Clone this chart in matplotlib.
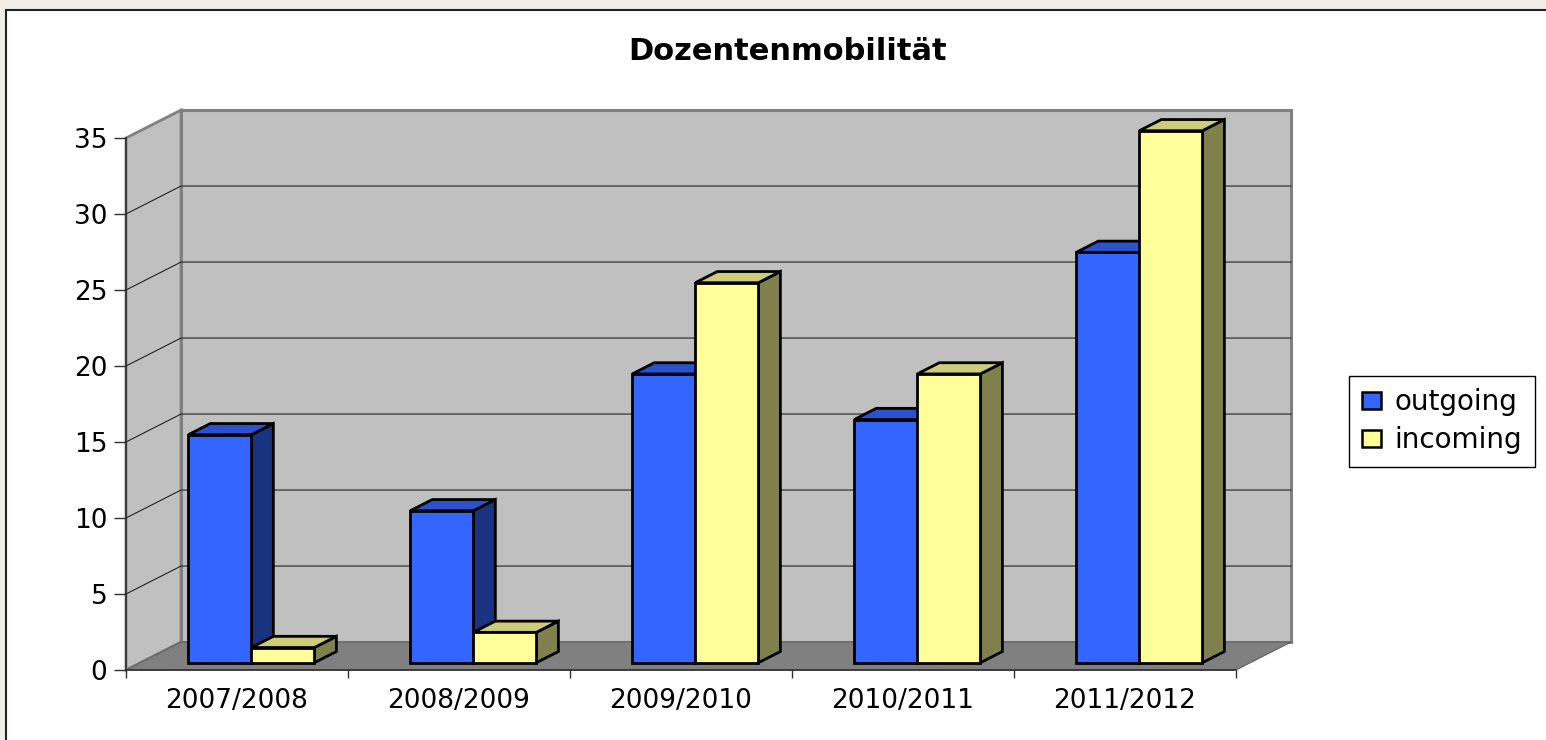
import numpy as np
import matplotlib
matplotlib.use('Agg')
import matplotlib.pyplot as plt
from matplotlib.patches import Polygon, Rectangle, Patch

plt.rcParams['font.family'] = ['DejaVu Sans']

# data
years = ['2007/2008', '2008/2009', '2009/2010', '2010/2011', '2011/2012']
outgoing = [15, 10, 19, 16, 27]
incoming = [1, 2, 25, 19, 35]
series_names = ['outgoing', 'incoming']
yticks = [0, 5, 10, 15, 20, 25, 30, 35]

# colours: front, top, side
blue = ['#3366ff', '#2952cc', '#1a3380']
yellow = ['#ffff99', '#cccc7a', '#80804d']

# 3d look (depth in data units)
DX = 0.248
DY = 1.84
W = 0.284          # bar width
G = (1 - 2 * W) / 2
F = 0.26           # front of bars, fraction of depth
BD = 0.40          # bar depth, fraction of depth


def poly(ax, pts, fc, ec='none', lw=0, z=1):
    p = Polygon(pts, closed=True, facecolor=fc, edgecolor=ec, linewidth=lw,
                joinstyle='miter', clip_on=False, zorder=z)
    ax.add_patch(p)


def bar3d(ax, x0, h, cols, z):
    y0 = F * DY
    dx, dy = BD * DX, BD * DY
    front = [(x0, y0), (x0 + W, y0), (x0 + W, y0 + h), (x0, y0 + h)]
    side = [(x0 + W, y0), (x0 + W + dx, y0 + dy), (x0 + W + dx, y0 + h + dy), (x0 + W, y0 + h)]
    top = [(x0, y0 + h), (x0 + W, y0 + h), (x0 + W + dx, y0 + h + dy), (x0 + dx, y0 + h + dy)]
    poly(ax, side, cols[2], 'black', 2, z)
    poly(ax, top, cols[1], 'black', 2, z)
    poly(ax, front, cols[0], 'black', 2, z)


fig = plt.figure(figsize=(15.46, 7.40), dpi=100, facecolor='#f1ede8')

# white chart area with dark border
fig.patches.append(Rectangle((6 / 1546, -0.1), 1.1, 1.1 - 10 / 740, transform=fig.transFigure,
                             facecolor='white', edgecolor='#222222', linewidth=1.5, zorder=-5))

ax = fig.add_axes([126 / 1546, 70 / 740, 1110 / 1546, 532 / 740])
ax.set_zorder(1)
ax.set_xlim(0, len(years))
ax.set_ylim(0, 35)
ax.patch.set_visible(False)

n = len(years)
top_v = yticks[-1]

# walls and floor
poly(ax, [(0, 0), (DX, DY), (DX, top_v + DY), (0, top_v)], '#c0c0c0', '#808080', 2, 1)
poly(ax, [(DX, DY), (n + DX, DY), (n + DX, top_v + DY), (DX, top_v + DY)], '#c0c0c0', '#808080', 2.2, 1)
poly(ax, [(0, 0), (n, 0), (n + DX, DY), (DX, DY)], '#808080', '#606060', 0.8, 2)

# gridlines
for v in yticks[1:-1]:
    ax.plot([0, DX, n + DX], [v, v + DY, v + DY], color='#222222', lw=0.8, zorder=1.5, clip_on=False)

# bars
for i in range(n):
    for s, (vals, cols) in enumerate([(outgoing, blue), (incoming, yellow)]):
        x0 = i + G + s * W + F * DX
        bar3d(ax, x0, vals[i], cols, 3 + i * 2 + s)

# axes
for k in ['top', 'right']:
    ax.spines[k].set_visible(False)
for k in ['left', 'bottom']:
    ax.spines[k].set_color('#303030')
    ax.spines[k].set_linewidth(1.2)
    ax.spines[k].set_zorder(20)

ax.set_yticks(yticks)
ax.set_yticklabels([str(v) for v in yticks], fontsize=19)
ax.tick_params(axis='y', direction='out', length=8.5, width=1, color='#303030', pad=5)

ax.set_xticks(np.arange(n + 1))
ax.set_xticklabels([])
ax.tick_params(axis='x', which='major', direction='out', length=6, width=1, color='#303030')
ax.set_xticks(np.arange(n) + 0.5, minor=True)
ax.set_xticklabels(years, minor=True, fontsize=19)
ax.tick_params(axis='x', which='minor', length=0, pad=13)

fig.text(788 / 1546, 1 - 52 / 740, 'Dozentenmobilität', fontsize=22, fontweight='bold',
         ha='center', va='center')

handles = [Patch(facecolor=blue[0], edgecolor='black', linewidth=1.8),
           Patch(facecolor=yellow[0], edgecolor='black', linewidth=1.8)]
leg = fig.legend(handles, series_names, loc='upper left',
                 bbox_to_anchor=(1349 / 1546, 1 - 376 / 740), borderaxespad=0,
                 fontsize=20, fancybox=False, framealpha=1, edgecolor='black',
                 handlelength=0.7, handleheight=0.55, handletextpad=0.5,
                 labelspacing=0.35, borderpad=0.45)
leg.get_frame().set_linewidth(1)

fig.savefig('out.png', dpi=100, facecolor=fig.get_facecolor())
